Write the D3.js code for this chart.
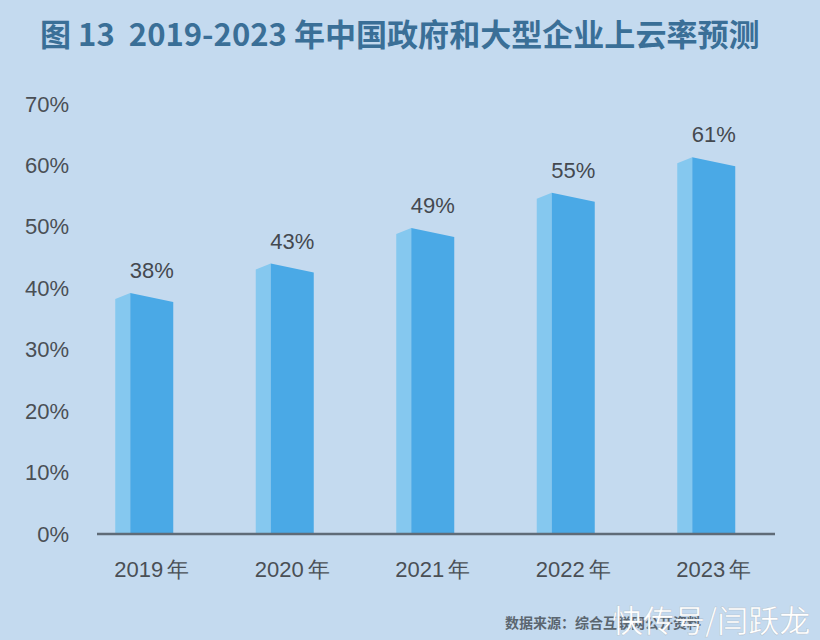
<!DOCTYPE html>
<html>
<head>
<meta charset="utf-8">
<script src="https://cdn.jsdelivr.net/npm/d3@7/dist/d3.min.js"></script>
<style>
html,body{margin:0;padding:0;background:#c4daef;}
svg{display:block;}
</style>
</head>
<body>
<svg id="chart" width="820" height="640"></svg>
<script>
const titleText = "图 13  2019-2023 年中国政府和大型企业上云率预测";
const categories = ["2019年", "2020年", "2021年", "2022年", "2023年"];
const values = [38, 43, 49, 55, 61];
const tickValues = [0, 10, 20, 30, 40, 50, 60, 70];
const sourceText = "数据来源：综合互联网公开资料";
const watermarkText = "快传号/闫跃龙";

const svg = d3.select("#chart");
svg.append("rect").attr("width", 820).attr("height", 640).attr("fill", "#c4daef");

// title
const title = svg.append("text")
  .attr("x", 40).attr("y", 46)
  .attr("font-family", "'Noto Sans CJK SC', 'Noto Sans', sans-serif")
  .attr("font-weight", "bold")
  .attr("font-size", 25)
  .attr("fill", "#3a6f97")
  .style("white-space", "pre")
  .text(titleText);
const tw = title.node().getComputedTextLength();
if (tw > 0) title.attr("font-size", 25 * 720 / tw);

// axis scale (tick labels) and perspective bar scale (front-right corner of each bar top)
const y = d3.scaleLinear().domain([0, 70]).range([534, 104]);
const yBar = d3.scaleLinear().domain([0, 70]).range([526.2, 113.2]);
const x = d3.scaleBand().domain(categories).range([81.5, 784]).padding(0);

const labelFont = "'Liberation Sans', Arial, sans-serif";

// y axis tick labels
const yAxis = d3.axisLeft(y).tickValues(tickValues).tickFormat(d => d + "%").tickSize(0).tickPadding(0);
const yg = svg.append("g").attr("transform", "translate(69,0)").call(yAxis);
yg.select(".domain").remove();
yg.selectAll("text")
  .attr("font-family", labelFont)
  .attr("font-size", 22)
  .attr("fill", "#4a4f55");

// bars
const sideW = 15, frontW = 43;
const g = svg.append("g");
categories.forEach((c, i) => {
  const cx = x(c) + x.bandwidth() / 2;
  const v = values[i];
  const yr = yBar(v);          // front-right top corner
  const peak = yr - 9;         // ridge between side and front
  const yl = peak + 6;         // back-left corner of side face
  const base = y(0);
  const mid = cx - frontW / 2;
  const left = mid - sideW;
  const right = mid + frontW;
  g.append("path")
    .attr("d", `M${left},${base} L${left},${yl} L${mid},${peak} L${mid},${base} Z`)
    .attr("fill", "#85c8ef");
  g.append("path")
    .attr("d", `M${mid},${base} L${mid},${peak} L${right},${yr} L${right},${base} Z`)
    .attr("fill", "#4aa9e6");
  g.append("text")
    .attr("x", cx)
    .attr("y", peak - 15)
    .attr("text-anchor", "middle")
    .attr("font-family", labelFont)
    .attr("font-size", 22)
    .attr("fill", "#44494f")
    .text(v + "%");
});

// x axis baseline + labels
const xAxis = d3.axisBottom(x).tickSize(0).tickPadding(0);
const xg = svg.append("g").attr("transform", `translate(0,${y(0)})`).call(xAxis);
xg.select(".domain").remove();
svg.append("line")
  .attr("x1", 97).attr("x2", 775)
  .attr("y1", y(0)).attr("y2", y(0))
  .attr("stroke", "#5f6b77").attr("stroke-width", 2.5);
xg.selectAll(".tick text").each(function(d) {
  const t = d3.select(this);
  t.text(null)
    .attr("dy", 0)
    .attr("y", 43)
    .attr("text-anchor", "middle")
    .attr("font-family", labelFont)
    .attr("font-size", 22)
    .attr("fill", "#4a4f55");
  t.append("tspan").text(d.replace("年", ""));
  t.append("tspan").attr("dx", 4).text("年");
});

// source
svg.append("text")
  .attr("x", 505).attr("y", 628)
  .attr("font-family", "'Noto Sans CJK SC', sans-serif")
  .attr("font-weight", "bold")
  .attr("font-size", 14)
  .attr("fill", "#5b6670")
  .text(sourceText);

// watermark
svg.append("text")
  .attr("x", 612).attr("y", 632)
  .attr("font-family", "'Noto Sans CJK SC', sans-serif")
  .attr("font-size", 31)
  .attr("fill", "#ffffff")
  .attr("stroke", "rgba(120,130,140,0.35)")
  .attr("stroke-width", 0.6)
  .text(watermarkText);
</script>
</body>
</html>
